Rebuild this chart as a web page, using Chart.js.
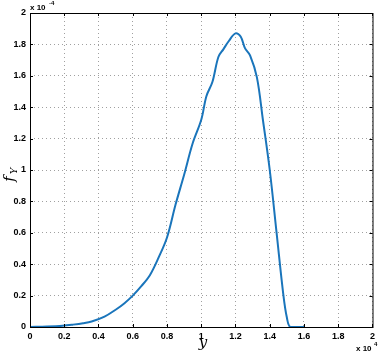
<!DOCTYPE html>
<html>
<head>
<meta charset="utf-8">
<script src="https://cdn.jsdelivr.net/npm/chart.js@4"></script>
<style>
  html, body { margin: 0; padding: 0; background: #fff; }
  #wrap { width: 379px; height: 352px; }
</style>
</head>
<body>
<div id="wrap"><canvas id="pdfChart" width="379" height="352"></canvas></div>
<script>
// y values in units of 1e4, density in units of 1e-4
const yGrid = [0, 0.1, 0.19, 0.25, 0.31, 0.36, 0.435, 0.5, 0.55, 0.6, 0.65, 0.7, 0.75, 0.8, 0.85, 0.9, 0.95, 1.0, 1.03, 1.065, 1.1, 1.13, 1.16, 1.2, 1.23, 1.256, 1.285, 1.325, 1.36, 1.4, 1.44, 1.48, 1.5, 1.52, 1.6];
const fY = [0, 0.003, 0.008, 0.015, 0.024, 0.035, 0.066, 0.11, 0.15, 0.2, 0.26, 0.33, 0.44, 0.57, 0.78, 0.97, 1.17, 1.32, 1.47, 1.56, 1.72, 1.77, 1.82, 1.87, 1.85, 1.775, 1.73, 1.59, 1.32, 1.0, 0.6, 0.2, 0.06, 0, 0];
const xTicks = [0, 0.2, 0.4, 0.6, 0.8, 1, 1.2, 1.4, 1.6, 1.8, 2];
const yTicks = [0, 0.2, 0.4, 0.6, 0.8, 1, 1.2, 1.4, 1.6, 1.8, 2];

const tickFont = { family: 'Liberation Sans, Arial, sans-serif', size: 9, weight: 'bold' };

const boxAndLabels = {
  id: 'boxAndLabels',
  afterDraw(chart) {
    const { ctx, chartArea: a } = chart;
    ctx.save();
    ctx.strokeStyle = '#000';
    ctx.lineWidth = 1;
    ctx.strokeRect(a.left + 0.5, a.top + 0.5, a.right - a.left, a.bottom - a.top);
    // small inward ticks
    const xs = chart.scales.x, ys = chart.scales.y;
    ctx.beginPath();
    xTicks.forEach(t => {
      const px = Math.round(xs.getPixelForValue(t)) + 0.5;
      ctx.moveTo(px, a.bottom); ctx.lineTo(px, a.bottom - 3);
      ctx.moveTo(px, a.top); ctx.lineTo(px, a.top + 3);
    });
    yTicks.forEach(t => {
      const py = Math.round(ys.getPixelForValue(t)) + 0.5;
      ctx.moveTo(a.left, py); ctx.lineTo(a.left + 3, py);
      ctx.moveTo(a.right, py); ctx.lineTo(a.right - 3, py);
    });
    ctx.stroke();

    ctx.fillStyle = '#000';
    ctx.font = 'bold 8px Liberation Sans, Arial, sans-serif';
    ctx.textBaseline = 'alphabetic';
    ctx.textAlign = 'left';
    ctx.fillText('x 10', 30, 10);
    ctx.font = 'bold 6px Liberation Sans, Arial, sans-serif';
    ctx.fillText('-4', 49, 5);
    ctx.font = 'bold 8px Liberation Sans, Arial, sans-serif';
    ctx.fillText('x 10', 356, 351);
    ctx.font = 'bold 6px Liberation Sans, Arial, sans-serif';
    ctx.fillText('4', 374, 346);

    ctx.font = 'italic 15px DejaVu Serif, Liberation Serif, serif';
    ctx.textAlign = 'center';
    ctx.fillText('y', 203, 347);
    ctx.translate(14, 176);
    ctx.rotate(-Math.PI / 2);
    ctx.fillText('f', -3, 0);
    ctx.font = 'italic 10px DejaVu Serif, Liberation Serif, serif';
    ctx.fillText('Y', 5, 3);
    ctx.restore();
  }
};

new Chart(document.getElementById('pdfChart'), {
  type: 'line',
  data: {
    datasets: [{
      data: yGrid.map((v, i) => ({ x: v, y: fY[i] })),
      borderColor: '#1a75bb',
      borderWidth: 2,
      pointRadius: 0,
      tension: 0.35,
      fill: false
    }]
  },
  options: {
    responsive: false,
    animation: false,
    layout: { padding: { top: 13, right: 4, left: 0, bottom: 0 } },
    plugins: { legend: { display: false }, tooltip: { enabled: false } },
    scales: {
      x: {
        type: 'linear',
        min: 0, max: 2,
        afterBuildTicks: s => { s.ticks = xTicks.map(v => ({ value: v })); },
        afterFit: s => { s.height = 25; },
        border: { display: false, dash: [1, 3] },
        grid: { color: '#a0a0a0', tickLength: 0, drawTicks: false },
        ticks: { color: '#000', font: tickFont, padding: 4, maxRotation: 0, callback: v => String(v) }
      },
      y: {
        min: 0, max: 2,
        afterBuildTicks: s => { s.ticks = yTicks.map(v => ({ value: v })); },
        afterFit: s => { s.width = 30; },
        border: { display: false, dash: [1, 3] },
        grid: { color: '#a0a0a0', tickLength: 0, drawTicks: false },
        ticks: { color: '#000', font: tickFont, padding: 4, callback: v => String(v) }
      }
    }
  },
  plugins: [boxAndLabels]
});
</script>
</body>
</html>
